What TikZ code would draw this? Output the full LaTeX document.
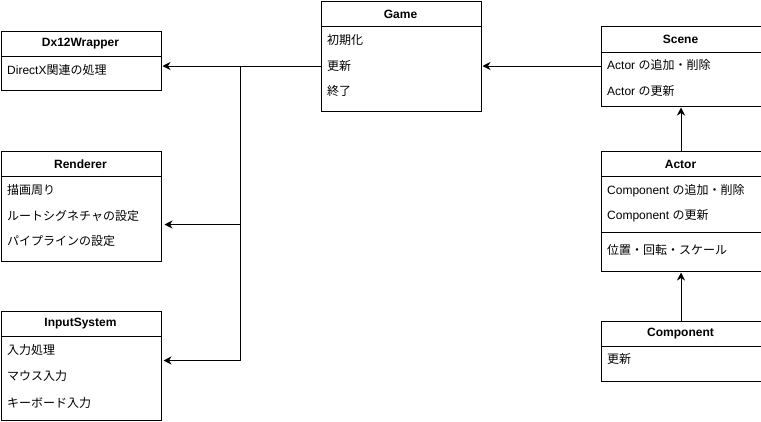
\documentclass[tikz,border=0pt]{standalone}
\usepackage{fontspec}
\setmainfont{Liberation Sans}
\newfontfamily\jp{Noto Sans CJK JP}
\usetikzlibrary{arrows.meta}
\tikzset{
  cls/.style={draw, line width=1pt, anchor=north west, inner sep=0pt, minimum width=160pt},
  hdr/.style={font=\fontsize{12}{14}\selectfont\bfseries, inner sep=0pt},
  itm/.style={font=\fontsize{12}{14}\selectfont, anchor=west, inner sep=0pt},
  sep/.style={line width=1pt},
  arr/.style={line width=1pt, -{Stealth[length=8pt, width=8pt, inset=2.5pt]}},
  lnk/.style={line width=1pt}
}
\begin{document}
\begin{tikzpicture}[x=1pt, y=-1pt]
\useasboundingbox (0,0) rectangle (761,421);
\fill[white] (0,0) rectangle (761,421);

% Game
\node[cls, minimum height=110pt] (game) at (320.5,0.5) {};
\draw[sep] (320.5,26) -- (480.5,26);
\node[hdr] (gameT) at (400.5,14) {Game};
\node[itm] (g1) at (327,40) {\jp 初期化};
\node[itm] (g2) at (327,66) {\jp 更新};
\node[itm] (g3) at (327,91) {\jp 終了};

% Dx12Wrapper
\node[cls, minimum height=59.5pt] (dx) at (0.5,30.5) {};
\draw[sep] (0.5,56) -- (160.5,56);
\node[hdr] (dxT) at (80.5,44) {Dx12Wrapper};
\node[itm] (dx1) at (7,70) {DirectX{\jp 関連の処理}};

% Renderer
\node[cls, minimum height=110pt] (rn) at (0.5,150.5) {};
\draw[sep] (0.5,176) -- (160.5,176);
\node[hdr] (rnT) at (80.5,164) {Renderer};
\node[itm] (r1) at (7,190) {\jp 描画周り};
\node[itm] (r2) at (7,216) {\jp ルートシグネチャの設定};
\node[itm] (r3) at (7,241) {\jp パイプラインの設定};

% InputSystem
\node[cls, minimum height=109.5pt] (in) at (0.5,310.5) {};
\draw[sep] (0.5,336) -- (160.5,336);
\node[hdr] (inT) at (80.5,324) {InputSystem};
\node[itm] (i1) at (7,350) {\jp 入力処理};
\node[itm] (i2) at (7,376) {\jp マウス入力};
\node[itm] (i3) at (7,403) {\jp キーボード入力};

% Scene
\node[cls, minimum height=80pt] (sc) at (600.5,25.5) {};
\draw[sep] (600.5,52) -- (760.5,52);
\node[hdr] (scT) at (680.5,39) {Scene};
\node[itm] (s1) at (607,65) {Actor {\jp の追加・削除}};
\node[itm] (s2) at (607,90.5) {Actor {\jp の更新}};

% Actor
\node[cls, minimum height=120pt] (ac) at (600.5,150.5) {};
\draw[sep] (600.5,176) -- (760.5,176);
\draw[sep] (600.5,232.5) -- (760.5,232.5);
\node[hdr] (acT) at (680.5,164) {Actor};
\node[itm] (a1) at (607,190.5) {Component {\jp の追加・削除}};
\node[itm] (a2) at (607,216) {Component {\jp の更新}};
\node[itm] (a3) at (607,249.5) {\jp 位置・回転・スケール};

% Component
\node[cls, minimum height=60pt] (cp) at (600.5,320.5) {};
\draw[sep] (600.5,346) -- (760.5,346);
\node[hdr] (cpT) at (680.5,334) {Component};
\node[itm] (c1) at (607,359) {\jp 更新};

% connectors
\coordinate (jt) at (240.5,66);
\coordinate (jr) at (240.5,224.5);
\coordinate (jb) at (240.5,360.5);
\draw[arr] (game.west |- jt) -- ([xshift=1pt]dx.east |- jt);
\draw[lnk] (jt) -- (jb);
\draw[arr] (jr) -- ([xshift=3pt]rn.east |- jr);
\draw[arr] (jb) -- ([xshift=2pt]in.east |- jb);
\draw[arr] (sc.west |- jt) -- ([xshift=1pt]game.east |- jt);
\draw[arr] (ac.north) -- ([yshift=-1pt]sc.south);
\draw[arr] (cp.north) -- ([yshift=-1pt]ac.south);
\end{tikzpicture}
\end{document}
